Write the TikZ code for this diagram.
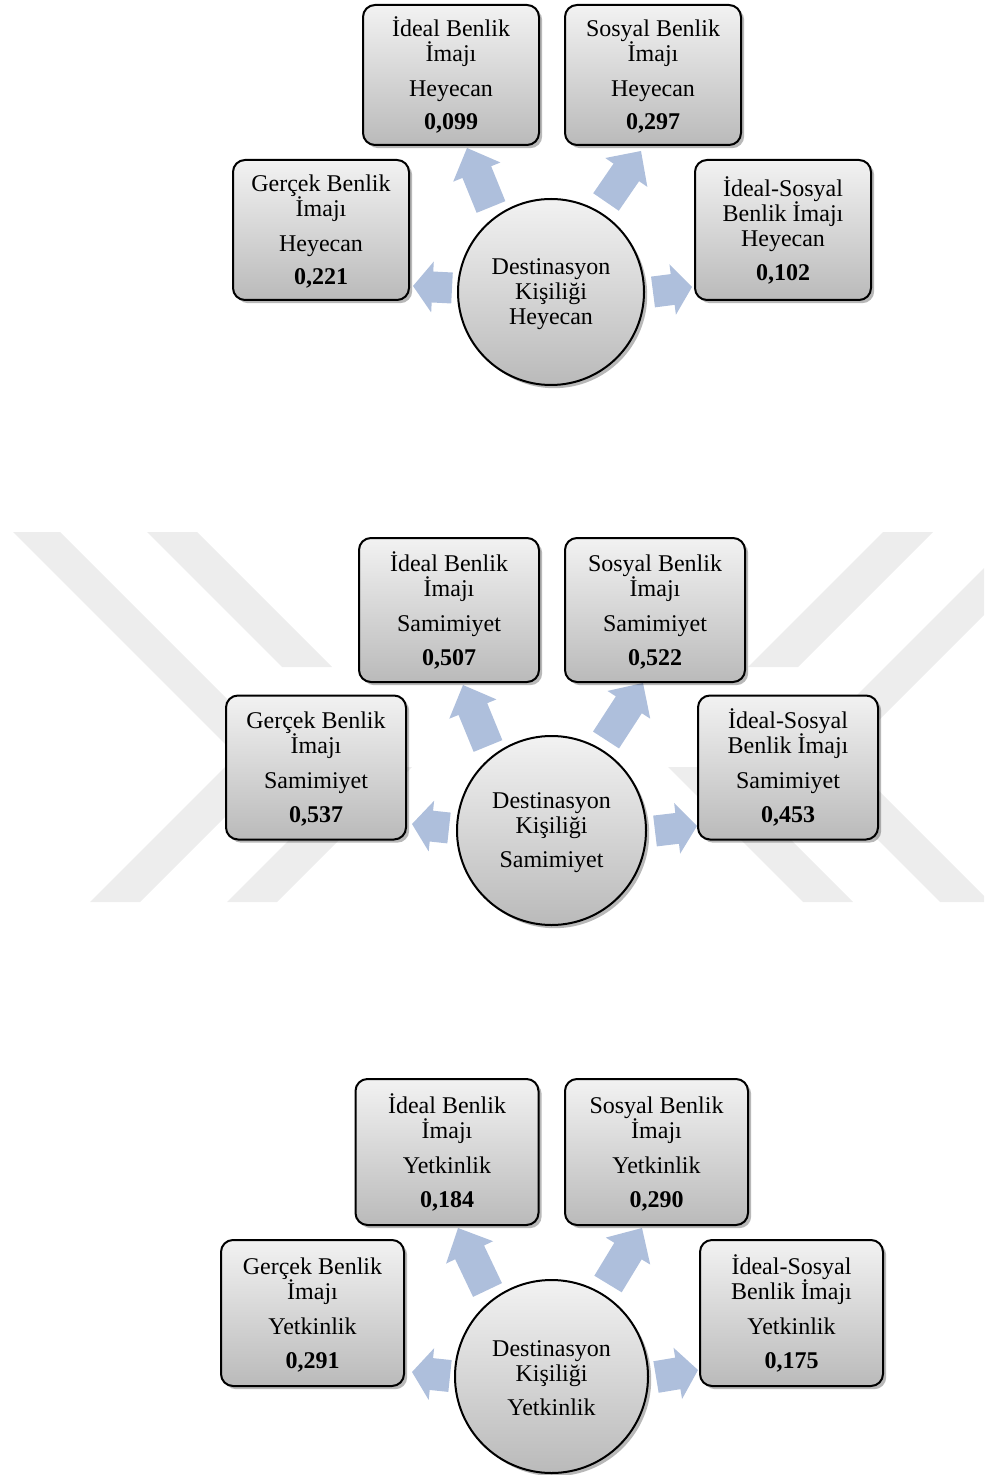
\documentclass[tikz,border=0pt]{standalone}
\usepackage{fontspec}
\setmainfont{Liberation Serif}
\usetikzlibrary{calc,shadows}

\definecolor{arrowblue}{RGB}{174,191,220}
\definecolor{wmgray}{RGB}{237,237,237}
\definecolor{boxtop}{RGB}{242,242,242}
\definecolor{boxbot}{RGB}{186,186,186}

\tikzset{
  shade/.style={top color=boxtop, bottom color=boxbot,
    drop shadow={shadow xshift=1.6pt, shadow yshift=-1.6pt, opacity=0.28, fill=black}},
  txt/.style={align=center, font=\fontsize{12pt}{12.5pt}\selectfont, inner sep=0pt, text=black},
  box/.style={shade, txt, draw=black, line width=1pt, rounded corners=6pt, rectangle},
  hub/.style={shade, txt, draw=black, line width=1pt, circle},
  blockarrow/.style={fill=arrowblue},
  wmband/.style={fill=wmgray}
}

% #1 base, #2 tip, #3 head length, #4 half shaft width, #5 half head width
\newcommand{\blockarr}[5]{%
  \coordinate (H) at ($(#2)!#3!(#1)$);
  \fill[blockarrow] ($(#1)!#4!90:(#2)$) -- ($(H)!#4!90:(#2)$) -- ($(H)!#5!90:(#2)$) -- (#2)
    -- ($(H)!#5!-90:(#2)$) -- ($(H)!#4!-90:(#2)$) -- ($(#1)!#4!-90:(#2)$) -- cycle;
}
\newcommand{\tl}{\vphantom{İ}}

\begin{document}
\begin{tikzpicture}[x=0.5pt,y=-0.5pt]
\useasboundingbox (0,0) rectangle (984,1475);

% ---------- watermark ----------
\begin{scope}
\clip (0,532) rectangle (984,902);
\fill[wmband] (13,532) -- (60,532) -- (285,757) -- (140,902) -- (90,902) -- (236.5,755.5) -- cycle;
\fill[wmband] (147,532) -- (197,532) -- (332,667) -- (282,667) -- cycle;
\fill[wmband] (227,902) -- (277,902) -- (412,767) -- (362,767) -- cycle;
\fill[wmband] (1067,532) -- (1020,532) -- (795,757) -- (940,902) -- (990,902) -- (843.5,755.5) -- cycle;
\fill[wmband] (933,532) -- (883,532) -- (748,667) -- (798,667) -- cycle;
\fill[wmband] (853,902) -- (803,902) -- (668,767) -- (718,767) -- cycle;
\end{scope}

% ---------- diagram 1 : Heyecan ----------
\coordinate (a1ulb) at (491,207); \coordinate (a1ult) at (467,148);
\coordinate (a1urb) at (606,202); \coordinate (a1urt) at (641,151);
\coordinate (a1lb) at (452,288);  \coordinate (a1lt) at (413,286);
\coordinate (a1rb) at (653,292);  \coordinate (a1rt) at (692,287);
\blockarr{a1ulb}{a1ult}{13pt}{7.75pt}{12.75pt}
\blockarr{a1urb}{a1urt}{13pt}{7.75pt}{12.75pt}
\blockarr{a1lb}{a1lt}{9.75pt}{7.75pt}{12.75pt}
\blockarr{a1rb}{a1rt}{9.75pt}{7.75pt}{12.75pt}

\node[box, minimum width=88pt, minimum height=70pt] (ideal1) at (451,75)
  {İdeal Benlik\\İmajı\\[5pt]Heyecan\\[4pt]\textbf{0,099}};
\node[box, minimum width=88pt, minimum height=70pt] (sosyal1) at (653,75)
  {\tl Sosyal Benlik\\İmajı\\[5pt]Heyecan\\[4pt]\textbf{0,297}};
\node[box, minimum width=88pt, minimum height=70pt] (gercek1) at (321,230)
  {\tl Gerçek Benlik\\İmajı\\[5pt]Heyecan\\[4pt]\textbf{0,221}};
\node[box, minimum width=88pt, minimum height=70pt] (is1) at (783,230)
  {İdeal-Sosyal\\Benlik İmajı\\Heyecan\\[4.5pt]\textbf{0,102}};
\node[hub, minimum size=93pt] (dk1) at (551,292)
  {\tl Destinasyon\\Kişiliği\\Heyecan};

% ---------- diagram 2 : Samimiyet ----------
\coordinate (a2ulb) at (488,746); \coordinate (a2ult) at (463,685);
\coordinate (a2urb) at (606,740); \coordinate (a2urt) at (643,683);
\coordinate (a2lb) at (449,828);  \coordinate (a2lt) at (412,824);
\coordinate (a2rb) at (655,831);  \coordinate (a2rt) at (697,826);
\blockarr{a2ulb}{a2ult}{13pt}{7.75pt}{12.75pt}
\blockarr{a2urb}{a2urt}{13pt}{7.75pt}{12.75pt}
\blockarr{a2lb}{a2lt}{9.75pt}{7.75pt}{12.75pt}
\blockarr{a2rb}{a2rt}{10pt}{7.75pt}{12.75pt}

\node[box, minimum width=90pt, minimum height=72pt] (ideal2) at (449,610)
  {İdeal Benlik\\İmajı\\[5pt]Samimiyet\\[4.5pt]\textbf{0,507}};
\node[box, minimum width=90pt, minimum height=72pt] (sosyal2) at (655,610)
  {\tl Sosyal Benlik\\İmajı\\[5pt]Samimiyet\\[4.5pt]\textbf{0,522}};
\node[box, minimum width=90pt, minimum height=72pt] (gercek2) at (316,767.5)
  {\tl Gerçek Benlik\\İmajı\\[5pt]Samimiyet\\[4.5pt]\textbf{0,537}};
\node[box, minimum width=90pt, minimum height=72pt] (is2) at (788,767.5)
  {İdeal-Sosyal\\Benlik İmajı\\[5pt]Samimiyet\\[4.5pt]\textbf{0,453}};
\node[hub, minimum size=94.5pt] (dk2) at (551.5,830.5)
  {\tl Destinasyon\\Kişiliği\\[4.5pt]Samimiyet};

% ---------- diagram 3 : Yetkinlik ----------
\coordinate (a3ulb) at (487.5,1290); \coordinate (a3ult) at (458,1228);
\coordinate (a3urb) at (608,1284);   \coordinate (a3urt) at (642,1228);
\coordinate (a3lb) at (450,1376);    \coordinate (a3lt) at (412,1372);
\coordinate (a3rb) at (656,1377);    \coordinate (a3rt) at (698,1370);
\blockarr{a3ulb}{a3ult}{13.5pt}{8pt}{13pt}
\blockarr{a3urb}{a3urt}{13.5pt}{8pt}{13pt}
\blockarr{a3lb}{a3lt}{9.75pt}{8pt}{13pt}
\blockarr{a3rb}{a3rt}{10.25pt}{8pt}{13pt}

\node[box, minimum width=91.5pt, minimum height=73pt] (ideal3) at (447,1152)
  {İdeal Benlik\\İmajı\\[5pt]Yetkinlik\\[4.5pt]\textbf{0,184}};
\node[box, minimum width=91.5pt, minimum height=73pt] (sosyal3) at (656.5,1152)
  {\tl Sosyal Benlik\\İmajı\\[5pt]Yetkinlik\\[4.5pt]\textbf{0,290}};
\node[box, minimum width=91.5pt, minimum height=73pt] (gercek3) at (312.5,1313)
  {\tl Gerçek Benlik\\İmajı\\[5pt]Yetkinlik\\[4.5pt]\textbf{0,291}};
\node[box, minimum width=91.5pt, minimum height=73pt] (is3) at (791.5,1313)
  {İdeal-Sosyal\\Benlik İmajı\\[5pt]Yetkinlik\\[4.5pt]\textbf{0,175}};
\node[hub, minimum size=96.5pt] (dk3) at (551.5,1376.5)
  {\tl Destinasyon\\Kişiliği\\[4.5pt]Yetkinlik};
\end{tikzpicture}
\end{document}
